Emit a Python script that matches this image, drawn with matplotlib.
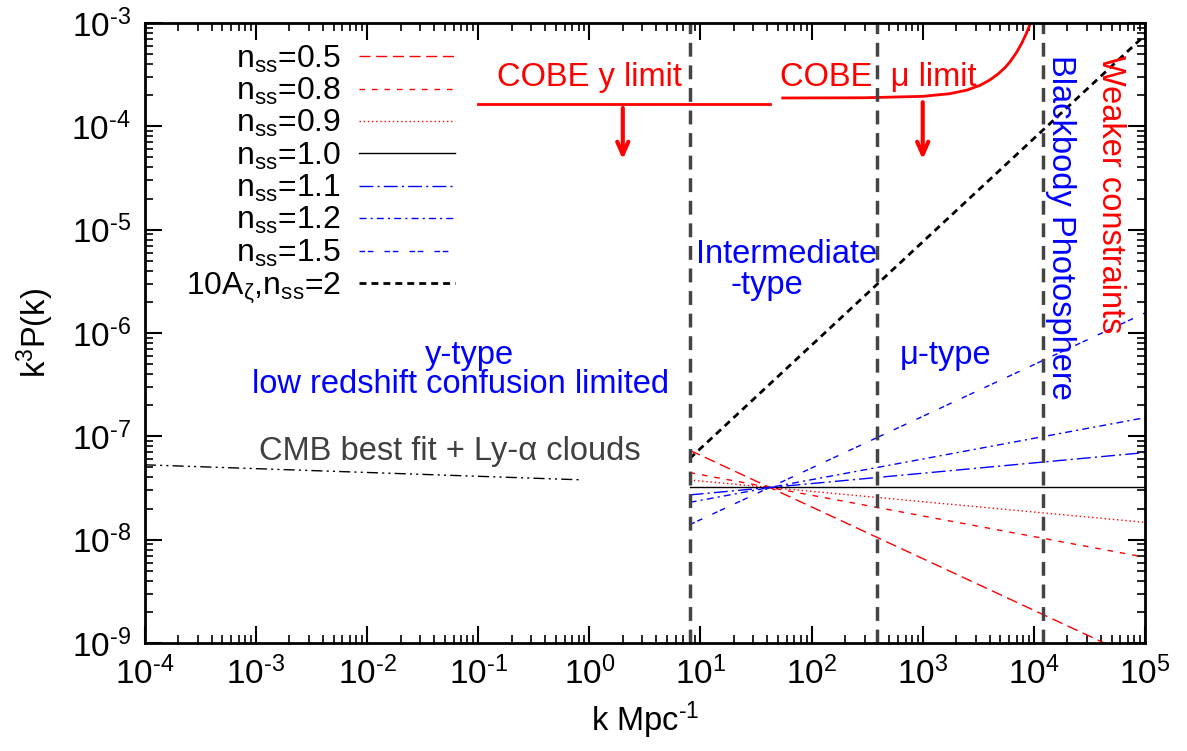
import numpy as np
import matplotlib
matplotlib.use('Agg')
import matplotlib.pyplot as plt

plt.rcParams['font.family'] = ['Liberation Sans', 'DejaVu Sans']
plt.rcParams['mathtext.fontset'] = 'custom'
plt.rcParams['mathtext.rm'] = 'Liberation Sans'
plt.rcParams['mathtext.it'] = 'Liberation Sans:italic'
plt.rcParams['mathtext.default'] = 'regular'
plt.rcParams['axes.unicode_minus'] = False

# small-scale power spectra: A (k/k_p)^(n_ss-1) starting at k_start
amp = 3.2e-8
k_pivot = 42.0
k_start = 8.0
k_end = 1e5
n_ss = [0.5, 0.8, 0.9, 1.0, 1.1, 1.2, 1.5]
ss_labels = ['$n_{ss}$=0.5', '$n_{ss}$=0.8', '$n_{ss}$=0.9', '$n_{ss}$=1.0',
             '$n_{ss}$=1.1', '$n_{ss}$=1.2', '$n_{ss}$=1.5']
ss_colors = ['red', 'red', 'red', 'black', 'blue', 'blue', 'blue']
ss_dashes = [(8, 4), (4, 5), (1, 2), (), (10, 3, 1.5, 3), (5, 3, 1.5, 3), (4, 2, 4, 8)]

# steep spectrum with 10x amplitude
amp_factor_steep = 10.0
n_steep = 2.0

# CMB + Lyman-alpha best fit
cmb_k = [1e-4, 0.85]
cmb_amp = 5.3e-8
cmb_ns = 0.963

# COBE limits
cobe_y_k = [0.1, 42]
cobe_y_val = [1.65e-4, 1.65e-4]
cobe_mu_k = [55, 300, 1000, 1760, 2500, 3300, 4000, 4800, 5500, 6100, 7000, 7800, 8600, 9300, 9600]
cobe_mu_val = [1.88e-4, 1.89e-4, 1.95e-4, 2.07e-4, 2.24e-4, 2.5e-4, 2.8e-4, 3.23e-4,
               3.7e-4, 4.2e-4, 5.2e-4, 6.4e-4, 8.0e-4, 9.9e-4, 1.1e-3]
arrow_k = [2.0, 1000.0]
arrow_top = [1.6e-4, 1.82e-4]
arrow_bottom = [4.5e-5, 4.5e-5]

# boundaries between distortion eras
era_k = [8.0, 390.0, 1.2e4]


def pow10_label(v, pos):
    e = int(round(np.log10(v)))
    s = str(e).replace('-', '\u2010')
    return '$10^{%s}$' % s


fig = plt.figure(figsize=(11.87, 7.51), dpi=100)
ax = fig.add_axes([0.122, 0.1438, 0.8426, 0.8256])
ax.set_xscale('log')
ax.set_yscale('log')
ax.set_xlim(1e-4, 1e5)
ax.set_ylim(1e-9, 1e-3)

k = np.logspace(np.log10(k_start), np.log10(k_end), 200)
for n, lab, c, d in zip(n_ss, ss_labels, ss_colors, ss_dashes):
    y = amp * (k / k_pivot) ** (n - 1)
    line, = ax.plot(k, y, color=c, lw=1.0, label=lab)
    if d:
        line.set_dashes(d)

ks = amp_factor_steep * amp * (k / k_pivot) ** (n_steep - 1)
ax.plot(k, ks, color='black', lw=2.0, dashes=(2.5, 1.8),
        label=r'10A$_{\zeta}$,$n_{ss}$=2')

kc = np.logspace(np.log10(cmb_k[0]), np.log10(cmb_k[1]), 100)
ax.plot(kc, cmb_amp * (kc / cmb_k[0]) ** (cmb_ns - 1), color='black', lw=1.0,
        dashes=(8, 3, 1.5, 3, 1.5, 3))

ax.plot(cobe_y_k, cobe_y_val, color='red', lw=2.0)
ax.plot(cobe_mu_k, cobe_mu_val, color='red', lw=2.0)
for xa, yt, yb in zip(arrow_k, arrow_top, arrow_bottom):
    ax.annotate('', xy=(xa, yb), xytext=(xa, yt),
                arrowprops=dict(arrowstyle='->,head_length=0.9,head_width=0.4',
                                color='red', lw=3.0))

for ke in era_k:
    ax.axvline(ke, color='#444444', lw=2.5, dashes=(4, 2.5))

fs = 23.5
ax.text(1.0, 3.0e-4, 'COBE y limit', color='red', fontsize=fs, ha='center', va='center')
ax.text(400, 3.0e-4, 'COBE  μ limit', color='red', fontsize=fs, ha='center', va='center')
ax.text(4.9e4, 2.2e-5, 'Weaker constraints', color='red', fontsize=fs, rotation=-90,
        ha='center', va='center')
ax.text(1.72e4, 1.05e-5, 'Blackbody Photosphere', color='blue', fontsize=fs, rotation=-90,
        ha='center', va='center')
ax.text(60, 5.7e-6, 'Intermediate', color='blue', fontsize=fs, ha='center', va='center')
ax.text(40, 2.9e-6, '-type', color='blue', fontsize=fs, ha='center', va='center')
ax.text(0.084, 6.0e-7, 'y-type', color='blue', fontsize=fs, ha='center', va='center')
ax.text(0.07, 3.2e-7, 'low redshift confusion limited', color='blue', fontsize=fs,
        ha='center', va='center')
ax.text(1590, 6.0e-7, 'μ-type', color='blue', fontsize=fs, ha='center', va='center')
ax.text(0.055, 7.1e-8, 'CMB best fit + Ly-α clouds', color='#404040', fontsize=fs,
        ha='center', va='center')

ax.set_xlabel('k Mpc$^{\u20101}$', fontsize=fs, labelpad=6)
ax.set_ylabel('k$^3$P(k)', fontsize=fs, va='center')
ax.yaxis.set_label_coords(-0.11, 0.5)

ax.tick_params(which='both', direction='in', top=True, right=True, labelsize=24)
ax.tick_params(which='major', length=12, width=1.5, pad=10)
ax.tick_params(which='minor', length=6, width=1.2)
ax.xaxis.set_major_locator(matplotlib.ticker.LogLocator(base=10, numticks=12))
ax.xaxis.set_minor_locator(matplotlib.ticker.LogLocator(base=10, subs=np.arange(2, 10), numticks=12))
ax.xaxis.set_major_formatter(matplotlib.ticker.FuncFormatter(pow10_label))
ax.xaxis.set_minor_formatter(matplotlib.ticker.NullFormatter())
ax.yaxis.set_major_locator(matplotlib.ticker.LogLocator(base=10, numticks=12))
ax.yaxis.set_minor_locator(matplotlib.ticker.LogLocator(base=10, subs=np.arange(2, 10), numticks=12))
ax.yaxis.set_major_formatter(matplotlib.ticker.FuncFormatter(pow10_label))
ax.yaxis.set_minor_formatter(matplotlib.ticker.NullFormatter())
for s in ax.spines.values():
    s.set_linewidth(2.0)

ax.legend(loc='upper right', bbox_to_anchor=(0.31, 0.967), frameon=False, markerfirst=False,
          fontsize=23, handlelength=3.0, handletextpad=0.56, labelspacing=0.04,
          borderaxespad=0.0, borderpad=0.0)

fig.savefig('out.png', dpi=100)
